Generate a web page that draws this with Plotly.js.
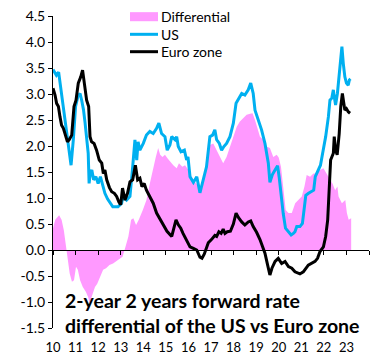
<!DOCTYPE html>
<html>
<head>
<meta charset="utf-8">
<script src="https://cdn.plot.ly/plotly-3.0.1.min.js"></script>
<style>html,body{margin:0;padding:0;background:#ffffff;}</style>
</head>
<body>
<div id="chart" style="width:384px;height:360px;"></div>
<script>
// ---- Data (decimal years, % values) ----
const usDates = [2010.00,2010.08,2010.15,2010.25,2010.35,2010.45,2010.55,2010.65,2010.72,2010.80,2010.90,
  2011.00,2011.10,2011.20,2011.27,2011.35,2011.42,2011.50,2011.56,2011.60,2011.65,2011.72,2011.80,2011.90,
  2012.00,2012.10,2012.20,2012.30,2012.42,2012.53,2012.65,2012.80,2012.88,2013.04,2013.10,2013.26,2013.41,
  2013.53,2013.63,2013.71,2013.77,2013.85,2014.00,2014.14,2014.29,2014.44,2014.59,2014.69,2014.81,2014.96,
  2015.06,2015.18,2015.26,2015.41,2015.48,2015.55,2015.67,2015.82,2015.92,2015.98,2016.07,2016.22,2016.37,
  2016.51,2016.66,2016.80,2016.95,2017.07,2017.17,2017.25,2017.37,2017.47,2017.57,2017.69,2017.84,2017.99,
  2018.11,2018.25,2018.36,2018.50,2018.65,2018.76,2018.87,2018.95,2019.10,2019.24,2019.39,2019.54,2019.61,
  2019.72,2019.85,2019.95,2020.02,2020.10,2020.20,2020.30,2020.43,2020.55,2020.65,2020.72,2020.80,2020.94,
  2021.05,2021.12,2021.20,2021.32,2021.45,2021.55,2021.62,2021.75,2021.85,2021.97,2022.08,2022.20,2022.27,
  2022.35,2022.42,2022.46,2022.52,2022.60,2022.68,2022.74,2022.80,2022.86,2022.93,2023.00,2023.08,2023.13,2023.18];
const usValues = [3.47,3.40,3.36,3.42,3.08,2.76,2.37,2.05,1.90,1.63,2.12,
  2.76,2.95,3.01,2.88,2.70,2.45,2.12,1.86,1.28,1.47,1.54,1.35,1.41,
  1.28,1.41,1.22,1.09,0.98,0.90,0.83,0.83,0.83,0.90,1.03,0.96,1.03,
  1.60,2.12,1.73,2.08,1.92,2.05,2.21,2.28,2.24,2.34,2.44,2.24,2.18,
  1.92,2.02,2.18,2.12,2.18,1.99,1.89,1.92,1.73,1.79,1.41,1.30,1.41,
  1.10,1.35,1.60,2.18,2.21,2.31,2.12,2.05,1.92,1.99,2.05,2.18,2.44,
  2.82,2.92,3.01,2.98,3.08,3.21,3.01,2.69,2.50,2.31,2.05,1.67,1.30,
  1.45,1.55,1.62,1.40,1.05,0.70,0.42,0.35,0.29,0.32,0.35,0.45,0.45,
  0.51,0.77,1.05,1.09,1.12,1.15,1.41,1.54,1.63,1.92,2.18,2.56,2.88,
  2.92,3.08,2.95,2.79,3.01,3.40,3.72,3.91,3.59,3.33,3.21,3.17,3.27,3.29];

const ezDates = [2010.00,2010.09,2010.16,2010.24,2010.31,2010.38,2010.46,2010.56,2010.64,2010.72,2010.83,2010.93,
  2011.02,2011.12,2011.23,2011.31,2011.39,2011.49,2011.58,2011.64,2011.71,2011.82,2011.93,2012.05,2012.16,
  2012.23,2012.30,2012.38,2012.50,2012.60,2012.72,2012.82,2012.92,2013.00,2013.08,2013.19,2013.30,2013.41,
  2013.53,2013.65,2013.75,2013.85,2013.94,2014.04,2014.14,2014.29,2014.44,2014.59,2014.75,2014.90,2015.05,
  2015.26,2015.38,2015.45,2015.56,2015.66,2015.76,2015.92,2016.07,2016.22,2016.37,2016.51,2016.60,2016.70,
  2016.80,2016.88,2017.02,2017.17,2017.25,2017.35,2017.45,2017.54,2017.62,2017.72,2017.86,2017.99,2018.11,
  2018.22,2018.36,2018.50,2018.65,2018.76,2018.87,2019.02,2019.17,2019.25,2019.39,2019.51,2019.61,2019.70,
  2019.84,2019.98,2020.13,2020.28,2020.43,2020.58,2020.72,2020.94,2021.09,2021.31,2021.46,2021.61,2021.72,
  2021.83,2021.98,2022.08,2022.17,2022.22,2022.27,2022.30,2022.42,2022.46,2022.52,2022.59,2022.68,2022.75,
  2022.82,2022.87,2022.93,2023.00,2023.08,2023.16];
const ezValues = [3.11,2.98,2.82,2.76,2.56,2.40,2.34,2.18,2.08,2.12,2.21,2.76,
  2.88,3.21,3.33,3.46,3.21,2.88,2.76,2.18,2.08,2.05,1.92,1.73,1.67,
  1.47,1.54,1.35,1.20,1.12,1.09,1.03,0.92,0.87,1.19,0.96,1.09,1.31,
  1.35,1.63,1.35,1.38,1.22,1.28,1.15,1.03,0.90,0.71,0.58,0.48,0.36,
  0.26,0.45,0.58,0.48,0.42,0.32,0.20,0.06,0.03,0.00,-0.14,-0.16,-0.08,
  0.06,0.14,0.20,0.28,0.26,0.35,0.32,0.40,0.32,0.35,0.36,0.50,0.71,
  0.62,0.54,0.48,0.54,0.56,0.45,0.34,0.20,0.10,-0.06,-0.29,-0.48,-0.35,
  -0.22,-0.16,-0.26,-0.22,-0.32,-0.35,-0.42,-0.46,-0.42,-0.29,-0.26,-0.22,-0.16,
  -0.03,0.06,0.26,0.58,0.96,1.35,1.73,1.86,2.18,1.92,1.83,2.24,2.76,
  3.01,2.88,2.69,2.72,2.66,2.63];

const diffDates = [2010.00,2010.10,2010.27,2010.38,2010.48,2010.58,2010.66,2010.74,2010.84,2010.93,
  2011.02,2011.10,2011.20,2011.32,2011.46,2011.56,2011.62,2011.74,2011.86,2011.96,2012.08,2012.22,
  2012.35,2012.50,2012.66,2012.80,2012.97,2013.08,2013.19,2013.34,2013.46,2013.56,2013.68,2013.80,
  2013.98,2014.14,2014.29,2014.44,2014.55,2014.66,2014.75,2014.85,2014.96,2015.08,2015.18,2015.33,
  2015.48,2015.58,2015.73,2015.85,2016.00,2016.14,2016.29,2016.44,2016.59,2016.66,2016.80,2016.95,
  2017.10,2017.25,2017.40,2017.54,2017.69,2017.84,2017.99,2018.14,2018.28,2018.43,2018.58,2018.73,
  2018.84,2018.95,2019.05,2019.17,2019.32,2019.46,2019.61,2019.76,2019.91,2020.00,2020.10,2020.21,
  2020.31,2020.43,2020.58,2020.73,2020.87,2021.02,2021.14,2021.24,2021.39,2021.54,2021.69,2021.83,
  2021.98,2022.13,2022.28,2022.38,2022.50,2022.60,2022.65,2022.80,2022.95,2023.02,2023.10,2023.21];
const diffValues = [0.42,0.58,0.67,0.58,0.38,0.06,-0.19,-0.45,-0.61,-0.58,
  -0.32,-0.38,-0.58,-0.71,-0.81,-0.91,-1.02,-0.88,-0.71,-0.65,-0.52,-0.38,
  -0.35,-0.29,-0.26,-0.22,-0.16,-0.13,0.03,0.26,0.58,0.61,0.48,0.58,
  0.77,0.96,1.28,1.60,1.78,1.96,1.83,1.79,1.83,1.76,1.70,1.63,
  1.57,1.67,1.60,1.63,1.54,1.41,1.31,1.22,1.15,1.30,1.60,2.02,
  2.05,1.92,1.79,1.67,1.79,1.99,2.18,2.37,2.47,2.53,2.60,2.62,
  2.63,2.50,2.37,2.18,2.12,1.99,1.96,1.79,1.83,1.78,1.60,1.15,
  0.77,0.71,0.71,0.90,0.96,1.03,1.22,1.44,1.41,1.47,1.47,1.54,
  1.57,1.47,1.35,1.28,1.15,1.22,1.03,0.90,0.96,0.71,0.58,0.61];

const seriesNames = ['Differential', 'US', 'Euro zone'];
const seriesColors = ['#FF99FF', '#00B0F0', '#000000'];
const yearTicks = [2010,2011,2012,2013,2014,2015,2016,2017,2018,2019,2020,2021,2022,2023,2024];
const yearLabels = ['10','11','12','13','14','15','16','17','18','19','20','21','22','23',''];
const yTicks = [-1.5,-1.0,-0.5,0.0,0.5,1.0,1.5,2.0,2.5,3.0,3.5,4.0,4.5];
const yLabels = ['-1.5','-1.0','-0.5','0.0','0.5','1.0','1.5','2.0','2.5','3.0','3.5','4.0','4.5'];
const titleLines = ['2-year 2 years forward rate', 'differential of the US vs Euro zone'];

const FONT = 'Lato, "Open Sans", sans-serif';

const traces = [
  {x: diffDates, y: diffValues, name: seriesNames[0], type: 'scatter', mode: 'lines',
   fill: 'tozeroy', fillcolor: seriesColors[0], line: {width: 0, color: seriesColors[0]}},
  {x: usDates, y: usValues, name: seriesNames[1], type: 'scatter', mode: 'lines',
   line: {width: 3, color: seriesColors[1]}},
  {x: ezDates, y: ezValues, name: seriesNames[2], type: 'scatter', mode: 'lines',
   line: {width: 3, color: seriesColors[2]}}
];

// Legend drawn as shapes + text (paper coordinates of the plot area)
const legX0 = 0.2437, legX1 = 0.3323, legTextX = 0.3354;
const legRowY = [0.9978, 0.9413, 0.8856];
const shapes = [
  {type: 'rect', xref: 'paper', yref: 'paper', x0: legX0, x1: legX1,
   y0: legRowY[0] - 0.0145, y1: legRowY[0] + 0.0145, fillcolor: seriesColors[0], line: {width: 0}},
  {type: 'line', xref: 'paper', yref: 'paper', x0: legX0, x1: legX1, y0: legRowY[1], y1: legRowY[1],
   line: {width: 3, color: seriesColors[1]}},
  {type: 'line', xref: 'paper', yref: 'paper', x0: legX0, x1: legX1, y0: legRowY[2], y1: legRowY[2],
   line: {width: 3, color: seriesColors[2]}}
];
const annotations = seriesNames.map((n, i) => ({
  text: n, xref: 'paper', yref: 'paper', x: legTextX, y: legRowY[i], xanchor: 'left', yanchor: 'middle',
  showarrow: false, font: {family: FONT, size: 14, color: '#000000'}
}));
annotations.push(
  {text: '<b>' + titleLines[0] + '</b>', xref: 'paper', yref: 'paper', x: 0.032, y: 0.0897,
   xanchor: 'left', yanchor: 'middle', showarrow: false, font: {family: FONT, size: 19.5, color: '#000000'}},
  {text: '<b>' + titleLines[1] + '</b>', xref: 'paper', yref: 'paper', x: 0.032, y: 0.008,
   xanchor: 'left', yanchor: 'middle', showarrow: false, font: {family: FONT, size: 19.5, color: '#000000'}}
);

const layout = {
  width: 384, height: 360,
  margin: {l: 53, r: 15, t: 16, b: 32, pad: 0},
  paper_bgcolor: '#ffffff', plot_bgcolor: '#ffffff',
  font: {family: FONT, size: 13, color: '#000000'},
  showlegend: false,
  xaxis: {range: [2010, 2024], tickmode: 'array', tickvals: yearTicks, ticktext: yearLabels,
          anchor: 'free', position: 0.25, showline: true, linecolor: '#000000', linewidth: 1,
          ticks: 'outside', ticklen: 4, tickcolor: '#000000', tickwidth: 1,
          ticklabelstandoff: 81, showgrid: false, zeroline: false,
          tickfont: {family: FONT, size: 13, color: '#000000'}},
  yaxis: {range: [-1.5, 4.5], tickmode: 'array', tickvals: yTicks, ticktext: yLabels,
          showline: true, linecolor: '#000000', linewidth: 1, ticks: 'outside', ticklen: 4,
          tickcolor: '#000000', showgrid: false, zeroline: false,
          tickfont: {family: FONT, size: 14, color: '#000000'}},
  shapes: shapes,
  annotations: annotations
};

Plotly.newPlot('chart', traces, layout, {displayModeBar: false, staticPlot: true});
</script>
</body>
</html>
